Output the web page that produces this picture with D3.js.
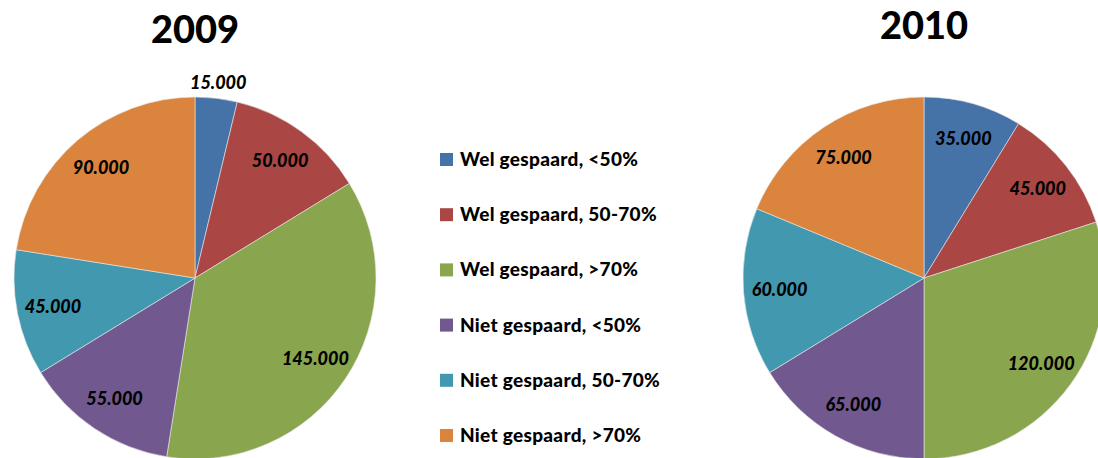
<!DOCTYPE html>
<html>
<head>
<meta charset="utf-8">
<script src="https://cdn.jsdelivr.net/npm/d3@7"></script>
<style>
  body { margin: 0; background: #fff; }
  svg { display: block; font-family: Lato, "Open Sans", sans-serif; }
</style>
</head>
<body>
<svg id="chart" width="1098" height="458"></svg>
<script>
// Categories and values
const categories = [
	"Wel gespaard, <50%",
	"Wel gespaard, 50-70%",
	"Wel gespaard, >70%",
	"Niet gespaard, <50%",
	"Niet gespaard, 50-70%",
	"Niet gespaard, >70%"
];
const values2009 = [15000, 50000, 145000, 55000, 45000, 90000];
const values2010 = [35000, 45000, 120000, 65000, 60000, 75000];
const years = ["2009", "2010"];
const colors = ["#4572A7", "#AA4643", "#89A54E", "#71588F", "#4198AF", "#DB843D"];

const svg = d3.select("#chart");
const color = d3.scaleOrdinal().domain(categories).range(colors);
const fmt = v => d3.format(",")(v).replace(/,/g, ".");

const radius = 181;
const pie = d3.pie().sort(null).value(d => d.value);
const arc = d3.arc().innerRadius(0).outerRadius(radius);
const labelArc = d3.arc().innerRadius(radius * 0.8).outerRadius(radius * 0.8);
const outerLabelArc = d3.arc().innerRadius(radius * 1.09).outerRadius(radius * 1.09);

function renderPie(values, year, cx, cy, titleY) {
	const data = categories.map((c, i) => ({ cat: c, value: values[i] }));
	const g = svg.append("g").attr("transform", "translate(" + cx + "," + cy + ")");

	g.selectAll("path")
		.data(pie(data))
		.join("path")
			.attr("d", arc)
			.attr("fill", d => color(d.data.cat))
			.attr("stroke", "#e8e8e8")
			.attr("stroke-width", 0.6);

	// Small slices get their label outside the pie
	g.selectAll("text.lbl")
		.data(pie(data))
		.join("text")
			.attr("class", "lbl")
			.attr("transform", d => {
				const a = (d.endAngle - d.startAngle) < 0.3 ? outerLabelArc : labelArc;
				return "translate(" + a.centroid(d) + ")";
			})
			.attr("text-anchor", "middle")
			.attr("dy", "0.36em")
			.style("font-size", "18px")
			.style("font-weight", "900")
			.style("font-style", "italic")
			.style("fill", "#000")
			.text(d => fmt(d.data.value));

	svg.append("text")
		.attr("x", cx)
		.attr("y", titleY)
		.attr("text-anchor", "middle")
		.style("font-size", "38px")
		.style("font-weight", "900")
		.style("fill", "#000")
		.text(year);
}

renderPie(values2009, years[0], 195, 278, 43);
renderPie(values2010, years[1], 924, 278, 39);

// Legend
const legendY = d3.scalePoint().domain(categories).range([160, 436]);
const legend = svg.append("g");
const items = legend.selectAll("g")
	.data(categories)
	.join("g")
		.attr("transform", d => "translate(440," + legendY(d) + ")");
items.append("rect")
	.attr("x", 0)
	.attr("y", -7)
	.attr("width", 13)
	.attr("height", 13)
	.attr("fill", d => color(d));
items.append("text")
	.attr("x", 20)
	.attr("y", 6)
	.style("font-size", "19px")
	.style("font-weight", "900")
	.style("letter-spacing", "0.3px")
	.style("fill", "#000")
	.text(d => d);
</script>
</body>
</html>
